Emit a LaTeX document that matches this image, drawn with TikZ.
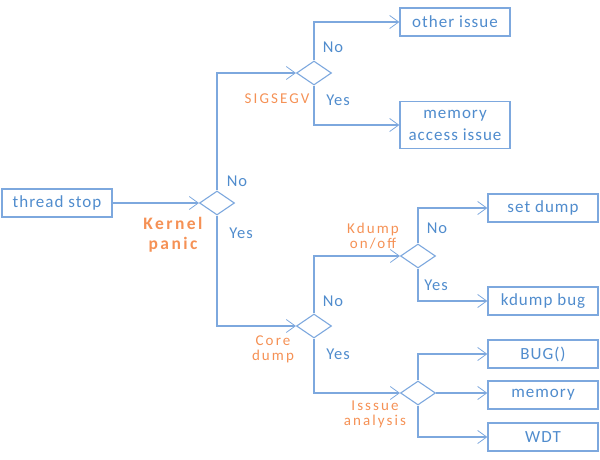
\documentclass[tikz,border=0pt]{standalone}
\usepackage{fontspec}
\setmainfont{Carlito}
\newfontfamily\bluefont[LetterSpace=6]{Carlito}
\newfontfamily\orfont[LetterSpace=14]{Carlito}
\usetikzlibrary{shapes.geometric,arrows.meta}
\definecolor{bline}{RGB}{125,168,222}
\definecolor{btext}{RGB}{80,140,205}
\definecolor{ortext}{RGB}{245,145,85}
\tikzset{
  box/.style={draw=bline,line width=1.3pt,rectangle,minimum width=110pt,minimum height=28pt,inner sep=0pt,text=btext,font=\bluefont\fontsize{17}{18}\selectfont,align=center},
  dec/.style={draw=bline,line width=1.1pt,diamond,minimum width=35pt,minimum height=24pt,inner sep=0pt},
  conn/.style={draw=bline,line width=1.3pt,-{Straight Barb[length=9pt,width=13pt,line width=0.8pt]}},
  yn/.style={text=btext,font=\bluefont\fontsize{16.5}{17}\selectfont,inner sep=0pt},
  olab/.style={text=ortext,font=\orfont\fontsize{15}{15}\selectfont,align=center,inner sep=0pt},
}
\begin{document}
\begin{tikzpicture}[x=1pt,y=-1pt]
\useasboundingbox (0,0) rectangle (600,460);
% nodes
\node[box] (ts) at (57,203) {thread stop};
\node[dec] (d1) at (217,203) {};
\node[dec] (d2) at (314,73) {};
\node[box] (oi) at (455,22) {other issue};
\node[box,minimum height=47pt] (mai) at (455,125) {memory\\[4pt]access issue};
\node[dec] (d3) at (314,326) {};
\node[dec] (d4) at (418,256) {};
\node[box] (sd) at (543,208) {set dump};
\node[box] (kb) at (543,301) {kdump bug};
\node[dec] (d5) at (418,393) {};
\node[box] (bug) at (543,354) {BUG()};
\node[box] (mem) at (543,395) {memory};
\node[box] (wdt) at (543,437) {WDT};
% connectors
\draw[conn] (ts.east) -- (d1.west);
\draw[conn] (d1.north) |- (d2.west);
\draw[conn] (d2.north) |- (oi.west);
\draw[conn] (d2.south) |- (mai.west);
\draw[conn] (d1.south) |- (d3.west);
\draw[conn] (d3.north) |- (d4.west);
\draw[conn] (d4.north) |- (sd.west);
\draw[conn] (d4.south) |- (kb.west);
\draw[conn] (d3.south) |- (d5.west);
\draw[conn] (d5.north) |- (bug.west);
\draw[conn] (d5.east) -- (d5.east -| mem.west);
\draw[conn] (d5.south) |- (wdt.west);
% labels
\node[yn] (n1) at (237,181) {No};
\node[yn] (y1) at (241,233) {Yes};
\node[olab,font=\orfont\fontsize{17.5}{20}\bfseries\selectfont] (kp) at (173,235) {Kernel\\panic};
\node[yn] (n2) at (333,47) {No};
\node[yn] (y2) at (338,100) {Yes};
\node[olab] (sg) at (277,99) {SIGSEGV};
\node[yn] (n3) at (333,301) {No};
\node[yn] (y3) at (338,354) {Yes};
\node[olab] (cd) at (273,349) {Core\\dump};
\node[yn] (n4) at (437,228) {No};
\node[yn] (y4) at (436,285) {Yes};
\node[olab] (ko) at (373,236) {Kdump\\on/off};
\node[olab] (ia) at (375,414) {Isssue\\analysis};
\end{tikzpicture}
\end{document}
